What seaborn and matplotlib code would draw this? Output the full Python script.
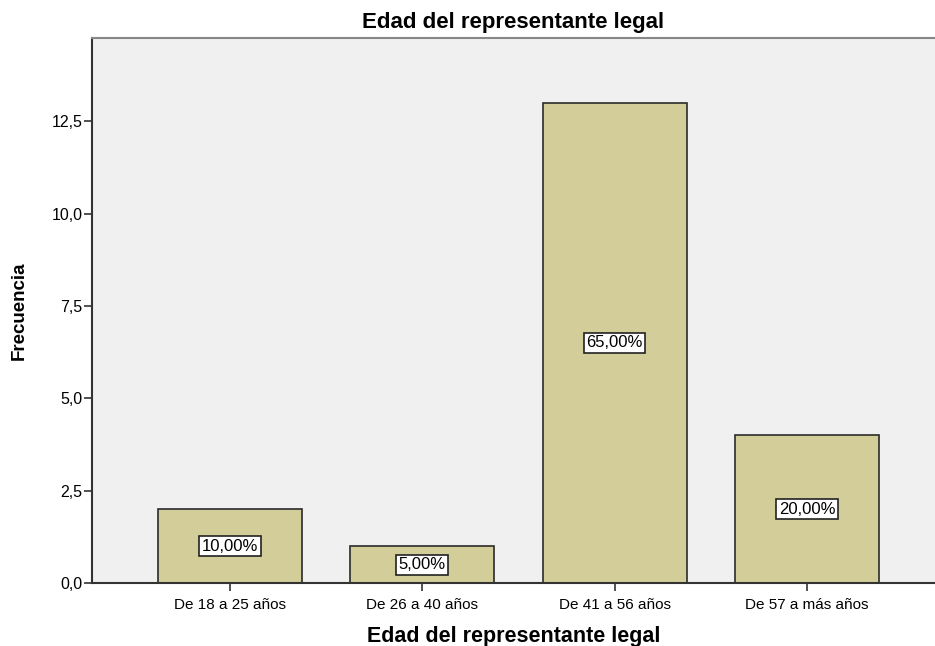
import matplotlib
matplotlib.use("Agg")
import matplotlib.pyplot as plt
import seaborn as sns
import pandas as pd

# Datos
categorias = ["De 18 a 25 años", "De 26 a 40 años", "De 41 a 56 años", "De 57 a más años"]
frecuencias = [2, 1, 13, 4]
yticks = [0.0, 2.5, 5.0, 7.5, 10.0, 12.5]

df = pd.DataFrame({"edad": categorias, "frecuencia": frecuencias})
total = sum(frecuencias)
porcentajes = [f"{100 * f / total:.2f}%".replace(".", ",") for f in frecuencias]

sns.set_style("white")
plt.rcParams["font.family"] = ["Liberation Sans", "DejaVu Sans"]
plt.rcParams["text.color"] = "black"
plt.rcParams["axes.labelcolor"] = "black"
plt.rcParams["xtick.color"] = "black"
plt.rcParams["ytick.color"] = "black"

fig = plt.figure(figsize=(9.35, 6.46), dpi=100)
ax = fig.add_axes([92 / 935, 1 - 583 / 646, 1 - 92 / 935, (583 - 38) / 646])
ax.set_facecolor("#f0f0f0")

sns.barplot(data=df, x="edad", y="frecuencia", color="#d3ce99", width=0.75,
            edgecolor="#2b2b2b", linewidth=1.2, saturation=1, ax=ax)

for i, (f, p) in enumerate(zip(frecuencias, porcentajes)):
    ax.text(i, f / 2, p, ha="center", va="center", fontsize=12,
            bbox=dict(boxstyle="square,pad=0.15", facecolor="white", edgecolor="#222222", linewidth=1.2))

ax.set_xlim(-0.717, 3.665)
ax.set_ylim(0, 14.75)
ax.set_yticks(yticks)
ax.set_yticklabels([f"{t:.1f}".replace(".", ",") for t in yticks], fontsize=11.5)
ax.tick_params(axis="x", labelsize=11, length=6, width=1.2, color="#333333", direction="out", bottom=True, pad=5)
ax.tick_params(axis="y", length=6, width=1.2, color="#333333", direction="out", left=True, pad=1)

for s in ["left", "bottom"]:
    ax.spines[s].set_color("#333333")
    ax.spines[s].set_linewidth(1.5)
ax.spines["top"].set_color("#888888")
ax.spines["top"].set_linewidth(1.5)
ax.spines["right"].set_visible(False)

ax.set_xlabel("Edad del representante legal", fontsize=15.5, fontweight="bold", labelpad=10)
ax.set_ylabel("Frecuencia", fontsize=13.5, fontweight="bold")
ax.yaxis.set_label_coords(-0.076, 0.5)
ax.set_title("Edad del representante legal", fontsize=16, fontweight="bold", pad=7)

fig.savefig("out.png", dpi=100)
